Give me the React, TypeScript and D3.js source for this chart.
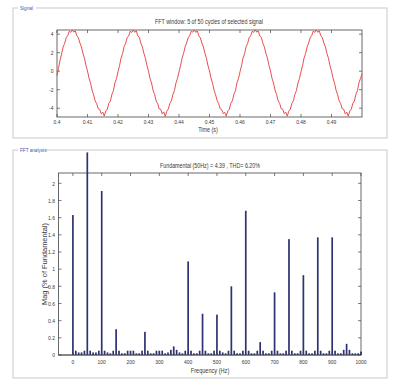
import * as d3 from "d3";

// signal window: 5 cycles sampled every 0.5 ms, t = 0.4 .. 0.5 s
const signalStart = 0.4;
const sampleStep = 0.0005;
const signalValues = [
  -0.45, 0.3, 1.2, 1.85, 2.6, 3.0, 3.6, 3.85, 4.3, 4.2, 4.45, 4.22, 4.35, 3.85, 3.62, 3.05, 2.62, 1.95, 1.4, 0.62,
  0.02, -0.75, -1.3, -2.05, -2.55, -3.2, -3.5, -4.05, -4.12, -4.6, -4.42, -4.85, -4.3, -4.1, -3.45, -3.22, -2.5, -2.12, -1.25, -0.8,
  -0.05, 0.58, 1.42, 1.9, 2.65, 3.02, 3.62, 3.82, 4.32, 4.18, 4.45, 4.2, 4.36, 3.82, 3.65, 3.02, 2.6, 1.92, 1.38, 0.6,
  0.0, -0.78, -1.28, -2.08, -2.52, -3.22, -3.48, -4.08, -4.1, -4.62, -4.4, -4.88, -4.32, -4.08, -3.48, -3.2, -2.52, -2.1, -1.28, -0.78,
  -0.08, 0.6, 1.4, 1.92, 2.62, 3.05, 3.6, 3.86, 4.3, 4.22, 4.44, 4.2, 4.34, 3.84, 3.6, 3.04, 2.62, 1.94, 1.4, 0.6,
  0.04, -0.76, -1.3, -2.06, -2.55, -3.18, -3.5, -4.06, -4.14, -4.58, -4.44, -4.86, -4.3, -4.12, -3.46, -3.2, -2.5, -2.12, -1.26, -0.8,
  -0.06, 0.58, 1.44, 1.88, 2.64, 3.0, 3.62, 3.84, 4.3, 4.2, 4.46, 4.22, 4.34, 3.82, 3.64, 3.02, 2.6, 1.94, 1.4, 0.62,
  0.02, -0.78, -1.28, -2.06, -2.52, -3.2, -3.48, -4.06, -4.1, -4.6, -4.42, -4.86, -4.32, -4.1, -3.48, -3.2, -2.5, -2.1, -1.28, -0.78,
  -0.06, 0.6, 1.42, 1.9, 2.62, 3.04, 3.6, 3.84, 4.32, 4.2, 4.45, 4.2, 4.35, 3.84, 3.62, 3.04, 2.62, 1.92, 1.4, 0.6,
  0.02, -0.76, -1.3, -2.06, -2.54, -3.2, -3.5, -4.06, -4.12, -4.6, -4.42, -4.86, -4.3, -4.1, -3.46, -3.22, -2.5, -2.12, -1.26, -0.8,
  -0.3,
];
const timeTicks = [0.4, 0.41, 0.42, 0.43, 0.44, 0.45, 0.46, 0.47, 0.48, 0.49];
const timeTickLabels = ["0.4", "0.41", "0.42", "0.43", "0.44", "0.45", "0.46", "0.47", "0.48", "0.49"];
const signalTicks = [4, 2, 0, -2, -4];

// FFT bins every 10 Hz, 0..1000 Hz (% of fundamental, 50 Hz bar runs off the axes)
const binStep = 10;
const fftMag = [
  1.63, 0.05, 0.03, 0.03, 0.05, 2.36, 0.05, 0.03, 0.03, 0.05,
  1.91, 0.05, 0.03, 0.02, 0.05, 0.3, 0.05, 0.02, 0.02, 0.05,
  0.05, 0.05, 0.02, 0.02, 0.05, 0.27, 0.05, 0.02, 0.02, 0.05,
  0.05, 0.05, 0.02, 0.03, 0.06, 0.1, 0.06, 0.03, 0.02, 0.05,
  1.09, 0.05, 0.02, 0.02, 0.05, 0.48, 0.05, 0.02, 0.02, 0.05,
  0.47, 0.05, 0.03, 0.02, 0.05, 0.8, 0.05, 0.02, 0.02, 0.05,
  1.68, 0.05, 0.02, 0.02, 0.05, 0.15, 0.05, 0.02, 0.02, 0.05,
  0.73, 0.05, 0.02, 0.02, 0.05, 1.35, 0.05, 0.02, 0.02, 0.05,
  0.93, 0.05, 0.02, 0.02, 0.05, 1.37, 0.05, 0.02, 0.02, 0.05,
  1.37, 0.05, 0.02, 0.02, 0.06, 0.13, 0.06, 0.02, 0.02, 0.02,
  0.04,
];
const freqTicks = [0, 100, 200, 300, 400, 500, 600, 700, 800, 900, 1000];
const magTicks = [0, 0.2, 0.4, 0.6, 0.8, 1, 1.2, 1.4, 1.6, 1.8, 2];

const FONT = "'Liberation Sans', Arial, sans-serif";
const TXT = "#3a3a3a";

// narrow text, like the matlab gui font
const Txt = ({x, y, size = 6.2, anchor = "middle", squeeze = 0.8, rot = 0, fill = TXT, children}: any) => (
  <text transform={`translate(${x},${y}) rotate(${rot}) scale(${squeeze},1)`} textAnchor={anchor}
        fontSize={size} fill={fill} fontFamily={FONT}>{children}</text>
);

const GroupBox = ({x, y, w, h, label, labelW}: any) => (
  <g>
    <rect x={x} y={y} width={w} height={h} fill="none" stroke="#c9c9c9" />
    <rect x={x + 5} y={y - 3} width={labelW} height={6} fill="#fff" />
    <Txt x={x + 7} y={y + 2} size={5.8} anchor="start" fill="#3b55b0">{label}</Txt>
  </g>
);

const App = () => {
  // signal axes
  const sx = d3.scaleLinear().domain([0.4, 0.5]).range([57, 362]);
  const sy = d3.scaleLinear().domain([-4.95, 4.45]).range([117, 30]);
  const sigLine = d3.line<number>()
    .x((_, i) => sx(signalStart + i * sampleStep))
    .y(d => sy(d));

  // fft axes
  const fx = d3.scaleLinear().domain([-50, 1000]).range([58.5, 361]);
  const fy = d3.scaleLinear().domain([0, 2.12]).range([355, 173]);
  const barW = 1.7;

  const tk = 3;

  return (
    <div style={{position: "absolute", left: 0, top: 0}}>
      <svg width={395} height={388} style={{display: "block", background: "#fff"}}>
        <GroupBox x={13} y={8} w={374} h={130} label="Signal" labelW={18} />
        <GroupBox x={13} y={150} w={374} h={228} label="FFT analysis" labelW={28} />

        {/* signal plot */}
        <text x={209} y={23.5} textAnchor="middle" fontSize={7} fill={TXT} fontFamily={FONT}
              textLength={108} lengthAdjust="spacingAndGlyphs">
          FFT window: 5 of 50 cycles of selected signal
        </text>
        <rect x={sx(0.4)} y={sy(4.45)} width={sx(0.5) - sx(0.4)} height={sy(-4.95) - sy(4.45)}
              fill="#fff" stroke="#444" strokeWidth={0.8} />
        {timeTicks.map((t, i) => (
          <g key={"tt" + i}>
            <line x1={sx(t)} x2={sx(t)} y1={sy(-4.95)} y2={sy(-4.95) - tk} stroke="#444" strokeWidth={0.7} />
            <line x1={sx(t)} x2={sx(t)} y1={sy(4.45)} y2={sy(4.45) + tk} stroke="#444" strokeWidth={0.7} />
            <Txt x={sx(t)} y={124}>{timeTickLabels[i]}</Txt>
          </g>
        ))}
        {signalTicks.map(v => (
          <g key={"st" + v}>
            <line x1={sx(0.4)} x2={sx(0.4) + tk} y1={sy(v)} y2={sy(v)} stroke="#444" strokeWidth={0.7} />
            <line x1={sx(0.5)} x2={sx(0.5) - tk} y1={sy(v)} y2={sy(v)} stroke="#444" strokeWidth={0.7} />
            <Txt x={53.5} y={sy(v) + 2.2} anchor="end">{v}</Txt>
          </g>
        ))}
        <path d={sigLine(signalValues) || ""} fill="none" stroke="#e8393a" strokeWidth={0.9} />
        <Txt x={208} y={131.5} size={6.8}>Time (s)</Txt>

        {/* fft plot */}
        <text x={210} y={168} textAnchor="middle" fontSize={7} fill={TXT} fontFamily={FONT}
              textLength={100} lengthAdjust="spacingAndGlyphs">
          Fundamental (50Hz) = 4.39 , THD= 6.20%
        </text>
        <rect x={fx(-50)} y={fy(2.12)} width={fx(1000) - fx(-50)} height={fy(0) - fy(2.12)}
              fill="#fff" stroke="#444" strokeWidth={0.8} />
        {freqTicks.map(f => (
          <g key={"ft" + f}>
            <line x1={fx(f)} x2={fx(f)} y1={fy(0)} y2={fy(0) - tk} stroke="#444" strokeWidth={0.7} />
            <line x1={fx(f)} x2={fx(f)} y1={fy(2.12)} y2={fy(2.12) + tk} stroke="#444" strokeWidth={0.7} />
            <Txt x={fx(f)} y={364}>{f}</Txt>
          </g>
        ))}
        {magTicks.map(v => (
          <g key={"mt" + v}>
            <line x1={fx(-50)} x2={fx(-50) + tk} y1={fy(v)} y2={fy(v)} stroke="#444" strokeWidth={0.7} />
            <line x1={fx(1000)} x2={fx(1000) - tk} y1={fy(v)} y2={fy(v)} stroke="#444" strokeWidth={0.7} />
            <Txt x={55} y={fy(v) + 2.2} anchor="end">{v}</Txt>
          </g>
        ))}
        {fftMag.map((m, i) => (
          <rect key={"b" + i} x={fx(i * binStep) - barW / 2} y={fy(m)} width={barW} height={fy(0) - fy(m)}
                fill="#2e3272" />
        ))}
        <line x1={fx(-50)} x2={fx(1000)} y1={fy(0)} y2={fy(0)} stroke="#444" strokeWidth={0.8} />
        <Txt x={210} y={373} size={7}>Frequency (Hz)</Txt>
        <text transform={`translate(46.5, ${(fy(0) + fy(2.12)) / 2}) rotate(-90)`} textAnchor="middle"
              fontSize={6.8} fill={TXT} fontFamily={FONT} textLength={82} lengthAdjust="spacingAndGlyphs">
          Mag (% of Fundamental)
        </text>
      </svg>
    </div>
  );
};

export default App;
